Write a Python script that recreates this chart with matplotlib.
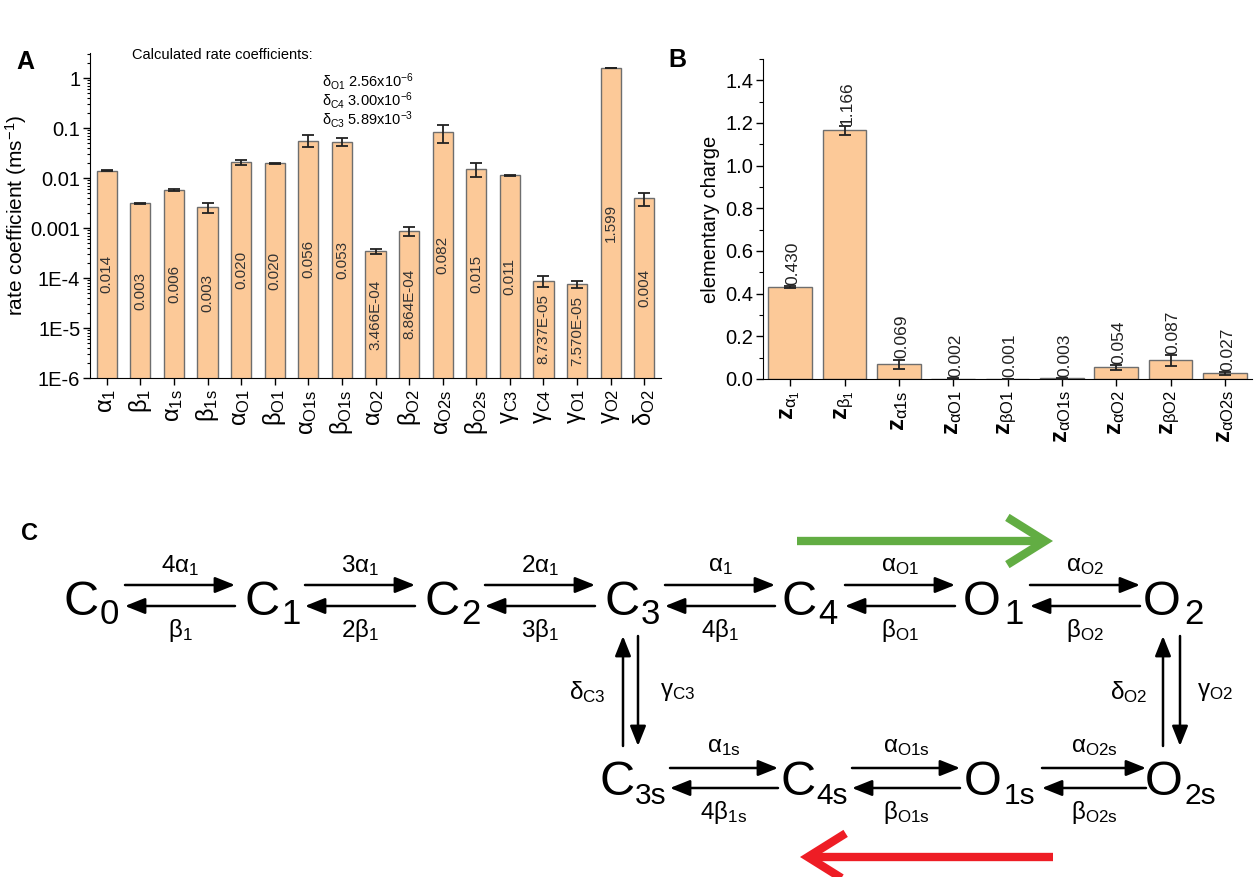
import matplotlib
matplotlib.use("Agg")
import matplotlib.pyplot as plt
import numpy as np
from matplotlib.ticker import LogLocator, FixedLocator, MultipleLocator, NullFormatter

plt.rcParams['font.family'] = ['Liberation Sans', 'DejaVu Sans']
plt.rcParams['mathtext.fontset'] = 'custom'
plt.rcParams['mathtext.rm'] = 'Liberation Sans'
plt.rcParams['mathtext.it'] = 'Liberation Sans:italic'
plt.rcParams['mathtext.bf'] = 'Liberation Sans:bold'

# ---------------- data ----------------
rate_names = [r'$\mathregular{α_{1}}$', r'$\mathregular{β_{1}}$', r'$\mathregular{α_{1s}}$', r'$\mathregular{β_{1s}}$',
              r'$\mathregular{α_{O1}}$', r'$\mathregular{β_{O1}}$', r'$\mathregular{α_{O1s}}$', r'$\mathregular{β_{O1s}}$',
              r'$\mathregular{α_{O2}}$', r'$\mathregular{β_{O2}}$', r'$\mathregular{α_{O2s}}$', r'$\mathregular{β_{O2s}}$',
              r'$\mathregular{γ_{C3}}$', r'$\mathregular{γ_{C4}}$', r'$\mathregular{γ_{O1}}$', r'$\mathregular{γ_{O2}}$',
              r'$\mathregular{δ_{O2}}$']
rate_values = [0.014, 0.0031, 0.0058, 0.0026, 0.0205, 0.0197, 0.056, 0.053, 3.466e-4, 8.864e-4,
               0.082, 0.015, 0.0114, 8.737e-5, 7.570e-5, 1.599, 0.0039]
rate_errors = [0.0003, 0.0001, 0.0003, 0.0006, 0.0022, 0.0005, 0.015, 0.009, 0.4e-4, 1.8e-4,
               0.033, 0.0045, 0.0002, 2.0e-5, 1.3e-5, 0.005, 0.0012]
rate_labels = ['0.014', '0.003', '0.006', '0.003', '0.020', '0.020', '0.056', '0.053', '3.466E-04',
               '8.864E-04', '0.082', '0.015', '0.011', '8.737E-05', '7.570E-05', '1.599', '0.004']

charge_names = [r'$\mathbf{z}_{\mathregular{α_{1}}}$', r'$\mathbf{z}_{\mathregular{β_{1}}}$',
                r'$\mathbf{z}_{\mathregular{α1s}}$', r'$\mathbf{z}_{\mathregular{αO1}}$',
                r'$\mathbf{z}_{\mathregular{βO1}}$', r'$\mathbf{z}_{\mathregular{αO1s}}$',
                r'$\mathbf{z}_{\mathregular{αO2}}$', r'$\mathbf{z}_{\mathregular{βO2}}$',
                r'$\mathbf{z}_{\mathregular{αO2s}}$']
charge_values = [0.430, 1.166, 0.069, 0.002, 0.001, 0.003, 0.054, 0.087, 0.027]
charge_errors = [0.005, 0.02, 0.022, 0.001, 0.0008, 0.002, 0.010, 0.024, 0.006]
charge_labels = ['0.430', '1.166', '0.069', '0.002', '0.001', '0.003', '0.054', '0.087', '0.027']

calc_names = [r'$\mathregular{δ_{O1}}$', r'$\mathregular{δ_{C4}}$', r'$\mathregular{δ_{C3}}$']
calc_values = [r'2.56x10$^{\mathregular{-6}}$', r'3.00x10$^{\mathregular{-6}}$', r'5.89x10$^{\mathregular{-3}}$']

bar_face = '#FCC998'
bar_edge = '#6e6e6e'

W, H = 1255, 877
fig = plt.figure(figsize=(W / 100, H / 100), dpi=100)

# ---------------- diagram canvas (pixel coords), drawn on top ----------------
axc = fig.add_axes([0, 0, 1, 1])
axc.set_xlim(0, W)
axc.set_ylim(H, 0)
axc.axis('off')
axc.set_zorder(10)

def px(x0, y0, x1, y1):
    return [x0 / W, 1 - y1 / H, (x1 - x0) / W, (y1 - y0) / H]

tick_fs = 14.5

# ---------------- Panel A ----------------
axA = fig.add_axes(px(90, 53, 661, 378))
axA.patch.set_alpha(0)
xA = np.arange(len(rate_values))
axA.bar(xA, rate_values, width=0.6, bottom=0, color=bar_face, edgecolor=bar_edge, linewidth=1.0, zorder=2)
axA.errorbar(xA, rate_values, yerr=rate_errors, fmt='none', ecolor='#222222', elinewidth=1.3,
             capsize=4, capthick=1.3, zorder=3)
axA.set_yscale('log')
axA.set_ylim(1e-6, 10 ** 0.5)
axA.set_xlim(-0.5, len(rate_values) - 0.5)
axA.yaxis.set_major_locator(FixedLocator([1e-6, 1e-5, 1e-4, 1e-3, 1e-2, 1e-1, 1]))
axA.set_yticklabels(['1E-6', '1E-5', '1E-4', '0.001', '0.01', '0.1', '1'])
axA.yaxis.set_minor_locator(LogLocator(base=10, subs=np.arange(2, 10), numticks=20))
axA.yaxis.set_minor_formatter(NullFormatter())
axA.set_xticks(xA)
axA.set_xticklabels(rate_names, rotation=90, fontsize=17)
for s in ['top', 'right']:
    axA.spines[s].set_visible(False)
axA.tick_params(axis='y', which='major', labelsize=tick_fs, length=5, width=1, pad=2)
axA.tick_params(axis='y', which='minor', length=2.5, width=0.8)
axA.tick_params(axis='x', length=5, width=1, pad=3)
axA.set_ylabel(r'rate coefficient (ms$^{\mathregular{-1}}$)', fontsize=15, labelpad=1)
for xi, v, lab in zip(xA, rate_values, rate_labels):
    axA.text(xi, np.sqrt(v * 1e-6), lab, rotation=90, ha='center', va='center',
             fontsize=11, color='#333333', zorder=4)

axc.text(132, 55, 'Calculated rate coefficients:', fontsize=10.5, ha='left', va='center')
for i, (n, v) in enumerate(zip(calc_names, calc_values)):
    axc.text(322, 81 + 19 * i, n + ' ' + v, fontsize=10.5, ha='left', va='center')

# ---------------- Panel B ----------------
axB = fig.add_axes(px(763, 59, 1252, 379))
axB.patch.set_alpha(0)
xB = np.arange(len(charge_values))
axB.bar(xB, charge_values, width=0.8, color=bar_face, edgecolor=bar_edge, linewidth=1.0, zorder=2)
axB.errorbar(xB, charge_values, yerr=charge_errors, fmt='none', ecolor='#222222', elinewidth=1.3,
             capsize=4, capthick=1.3, zorder=3)
axB.set_ylim(0, 1.5)
axB.set_xlim(-0.5, len(charge_values) - 0.5)
axB.yaxis.set_major_locator(FixedLocator([0, 0.2, 0.4, 0.6, 0.8, 1.0, 1.2, 1.4]))
axB.yaxis.set_major_formatter(matplotlib.ticker.FormatStrFormatter('%.1f'))
axB.yaxis.set_minor_locator(MultipleLocator(0.1))
axB.set_xticks(xB)
axB.set_xticklabels(charge_names, rotation=90, fontsize=17)
for s in ['top', 'right']:
    axB.spines[s].set_visible(False)
axB.tick_params(axis='y', which='major', labelsize=tick_fs, length=5, width=1, pad=2)
axB.tick_params(axis='y', which='minor', length=3, width=0.8)
axB.tick_params(axis='x', length=5, width=1, pad=3)
axB.set_ylabel('elementary charge', fontsize=14.5, labelpad=4)
for xi, v, e, lab in zip(xB, charge_values, charge_errors, charge_labels):
    axB.text(xi + 0.05, v + e + 0.006, lab, rotation=90, ha='center', va='bottom',
             fontsize=12.5, color='#222222', zorder=4)

# panel letters
axc.text(25, 62, 'A', fontsize=18, fontweight='bold', ha='center', va='center')
axc.text(677, 60, 'B', fontsize=18, fontweight='bold', ha='center', va='center')
axc.text(30, 533, 'C', fontsize=17, fontweight='bold', ha='center', va='center')

# ---------------- Panel C: kinetic scheme ----------------
letter_fs = 35
rate_fs = 17.5
top_states = [('C', '0', 81, 100), ('C', '1', 262, 281), ('C', '2', 442, 461), ('C', '3', 622, 641),
              ('C', '4', 799, 818), ('O', '1', 982, 1004), ('O', '2', 1162, 1184)]
for L, sub, xl, xs in top_states:
    axc.text(xl, 615, L, fontsize=letter_fs, ha='center', va='baseline')
    axc.text(xs, 624, sub, fontsize=25, ha='left', va='baseline')

bot_states = [('C', '3s', 617, 635), ('C', '4s', 798, 816), ('O', '1s', 983, 1004), ('O', '2s', 1164, 1185)]
for L, sub, xl, xs in bot_states:
    axc.text(xl, 795, L, fontsize=letter_fs, ha='center', va='baseline')
    axc.text(xs, 804, sub, fontsize=21.5, ha='left', va='baseline')

def arrow(x0, y0, x1, y1):
    axc.annotate('', xy=(x1, y1), xytext=(x0, y0),
                 arrowprops=dict(arrowstyle='-|>,head_length=0.55,head_width=0.22', lw=1.8,
                                 color='black', shrinkA=0, shrinkB=0, mutation_scale=22))

top_pairs = [(125, 235, r'4$\mathregular{α_{1}}$', r'$\mathregular{β_{1}}$'),
             (305, 415, r'3$\mathregular{α_{1}}$', r'2$\mathregular{β_{1}}$'),
             (485, 595, r'2$\mathregular{α_{1}}$', r'3$\mathregular{β_{1}}$'),
             (665, 775, r'$\mathregular{α_{1}}$', r'4$\mathregular{β_{1}}$'),
             (845, 955, r'$\mathregular{α_{O1}}$', r'$\mathregular{β_{O1}}$'),
             (1030, 1140, r'$\mathregular{α_{O2}}$', r'$\mathregular{β_{O2}}$')]
for x0, x1, fw, bw in top_pairs:
    arrow(x0, 585, x1, 585)
    arrow(x1, 606, x0, 606)
    axc.text((x0 + x1) / 2, 566, fw, fontsize=rate_fs, ha='center', va='center')
    axc.text((x0 + x1) / 2, 630, bw, fontsize=rate_fs, ha='center', va='center')

bot_pairs = [(670, 778, r'$\mathregular{α_{1s}}$', r'4$\mathregular{β_{1s}}$'),
             (852, 960, r'$\mathregular{α_{O1s}}$', r'$\mathregular{β_{O1s}}$'),
             (1042, 1146, r'$\mathregular{α_{O2s}}$', r'$\mathregular{β_{O2s}}$')]
for x0, x1, fw, bw in bot_pairs:
    arrow(x0, 768, x1, 768)
    arrow(x1, 788, x0, 788)
    axc.text((x0 + x1) / 2, 747, fw, fontsize=rate_fs, ha='center', va='center')
    axc.text((x0 + x1) / 2, 812, bw, fontsize=rate_fs, ha='center', va='center')

# vertical transitions
arrow(623, 746, 623, 636)
arrow(638, 636, 638, 746)
axc.text(587, 692, r'$\mathregular{δ_{C3}}$', fontsize=rate_fs, ha='center', va='center')
axc.text(678, 692, r'$\mathregular{γ_{C3}}$', fontsize=rate_fs, ha='center', va='center')
arrow(1163, 746, 1163, 636)
arrow(1180, 636, 1180, 746)
axc.text(1129, 692, r'$\mathregular{δ_{O2}}$', fontsize=rate_fs, ha='center', va='center')
axc.text(1215, 692, r'$\mathregular{γ_{O2}}$', fontsize=rate_fs, ha='center', va='center')

# green and red direction arrows
axc.annotate('', xy=(1053, 541), xytext=(797, 541),
             arrowprops=dict(arrowstyle='->,head_length=0.8,head_width=0.5', lw=6,
                             color='#62AD43', shrinkA=0, shrinkB=0, mutation_scale=34,
                             joinstyle='miter', capstyle='butt'))
axc.annotate('', xy=(800, 857), xytext=(1053, 857),
             arrowprops=dict(arrowstyle='->,head_length=0.8,head_width=0.5', lw=6,
                             color='#EE1D25', shrinkA=0, shrinkB=0, mutation_scale=34,
                             joinstyle='miter', capstyle='butt'))

fig.savefig('out.png', dpi=100)
